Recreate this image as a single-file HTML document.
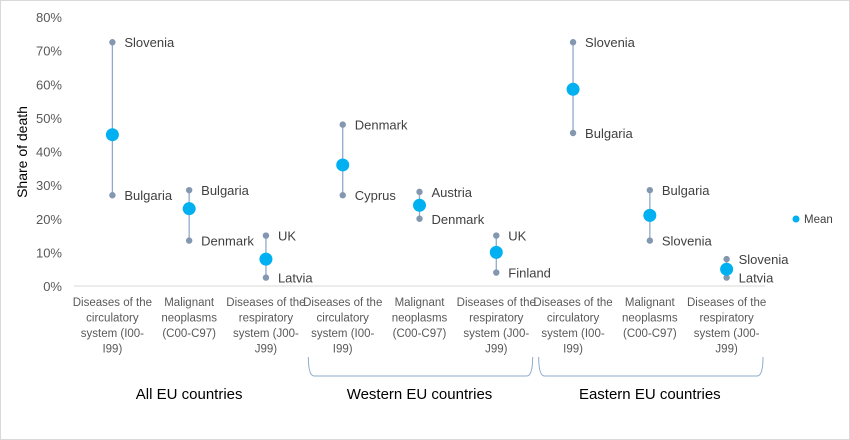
<!DOCTYPE html>
<html><head><meta charset="utf-8"><style>
body{margin:0;background:#fff}
svg{display:block;font-family:"Liberation Sans",sans-serif}
</style></head><body>
<svg id="chart" width="850" height="440">
<rect x="0.5" y="0.5" width="849" height="439" fill="#fff" stroke="#d9d9d9"/>
<g id="g"></g>
</svg>
<script>
const categories=["Diseases of the|circulatory|system (I00-|I99)","Malignant|neoplasms|(C00-C97)","Diseases of the|respiratory|system (J00-|J99)","Diseases of the|circulatory|system (I00-|I99)","Malignant|neoplasms|(C00-C97)","Diseases of the|respiratory|system (J00-|J99)","Diseases of the|circulatory|system (I00-|I99)","Malignant|neoplasms|(C00-C97)","Diseases of the|respiratory|system (J00-|J99)"];
const maxVals=[72.5,28.5,15,48,28,15,72.5,28.5,8];
const meanVals=[45,23,8,36,24,10,58.5,21,5];
const minVals=[27,13.5,2.5,27,20,4,45.5,13.5,2.5];
const maxLabels=["Slovenia","Bulgaria","UK","Denmark","Austria","UK","Slovenia","Bulgaria","Slovenia"];
const minLabels=["Bulgaria","Denmark","Latvia","Cyprus","Denmark","Finland","Bulgaria","Slovenia","Latvia"];
const yTicks=[0,10,20,30,40,50,60,70,80];
const groups=["All EU countries","Western EU countries","Eastern EU countries"];

const NS="http://www.w3.org/2000/svg";
const g=document.getElementById('g');
const x0=74,x1=765,yBase=286,yTop=17;
const step=(x1-x0)/categories.length;
const X=i=>x0+step*(i+0.5);
const Y=v=>yBase-(v/80)*(yBase-yTop);
function el(t,a,txt){const e=document.createElementNS(NS,t);for(const k in a)e.setAttribute(k,a[k]);if(txt!==undefined)e.textContent=txt;g.appendChild(e);return e;}

yTicks.forEach(t=>{
 const e=el('text',{x:62,y:Y(t)+5,'text-anchor':'end','font-size':13,fill:'#595959'},t+'%');
 
 
});
const yt=el('text',{x:0,y:0,transform:'translate(27,152) rotate(-90)','text-anchor':'middle','font-size':14,fill:'#000'},'Share of death');


const ax=el('line',{x1:x0,x2:x1,y1:yBase,y2:yBase,stroke:'#d9d9d9','stroke-width':1});



categories.forEach((c,i)=>{
 const x=X(i);
 const ln=el('line',{x1:x,x2:x,y1:Y(maxVals[i]),y2:Y(minVals[i]),stroke:'#8eaacb','stroke-width':1.3});
 
 
 const a=el('circle',{cx:x,cy:Y(maxVals[i]),r:3.2,fill:'#8497b0'});
 
 
 const b=el('circle',{cx:x,cy:Y(minVals[i]),r:3.2,fill:'#8497b0'});
 
 
 const m=el('circle',{cx:x,cy:Y(meanVals[i]),r:6.5,fill:'#00b0f0'});
 
 
 const t1=el('text',{x:x+12,y:Y(maxVals[i])+5,'font-size':13,fill:'#404040'},maxLabels[i]);
 
 
 const t2=el('text',{x:x+12,y:Y(minVals[i])+5,'font-size':13,fill:'#404040'},minLabels[i]);
 
 
 c.split('|').forEach((l,k)=>{
  const t=el('text',{x:x,y:306+k*15.5,'text-anchor':'middle','font-size':11.5,fill:'#595959'},l);
  
  
 });
});
groups.forEach((gr,j)=>{
 const cx=X(j*3+1);
 const t=el('text',{x:cx,y:399,'text-anchor':'middle','font-size':15,fill:'#000'},gr);
 
 
 if(j>0){
  const l=X(j*3)-step/2+4,r=X(j*3+2)+step/2-2;
  const p=el('path',{d:`M${l} 357 Q${l} 376 ${l+6} 376 L${r-6} 376 Q${r} 376 ${r} 357`,fill:'none',stroke:'#8eaacb','stroke-width':1});
  
  
 }
});
const ld=el('circle',{cx:796,cy:219,r:3.5,fill:'#00b0f0'});


const lt=el('text',{x:804,y:223,'font-size':11.5,fill:'#404040'},'Mean');


</script>
</body></html>
